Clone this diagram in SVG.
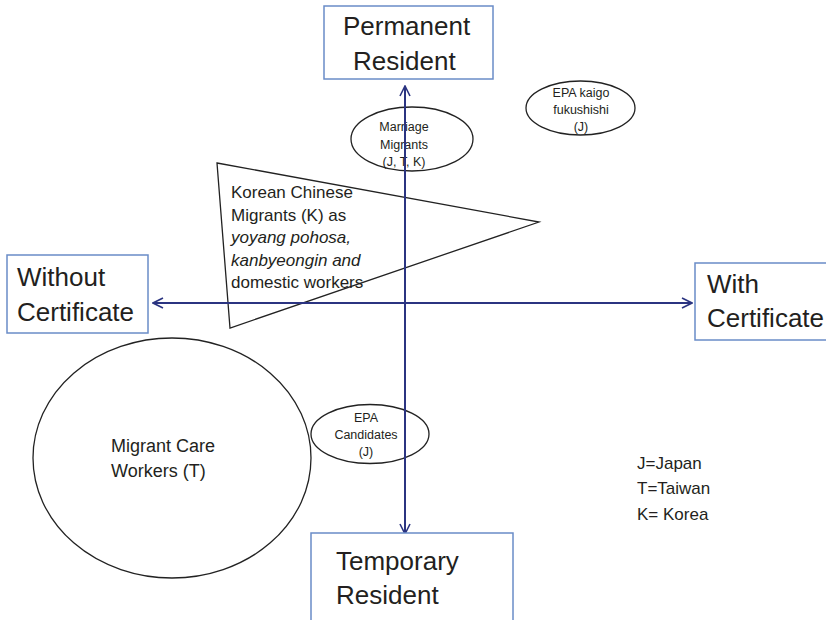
<svg xmlns="http://www.w3.org/2000/svg" width="826" height="620" viewBox="0 0 826 620">
<defs>
<marker id="arr" viewBox="0 0 12 12" refX="11" refY="6" markerWidth="12" markerHeight="12" markerUnits="userSpaceOnUse" orient="auto-start-reverse">
<polyline points="1,1 11,6 1,11" fill="none" stroke="#2b3481" stroke-width="1.6"/>
</marker>
<style>
.box{fill:#fff;stroke:#6a8cc7;stroke-width:1.5}
.shape{fill:#fff;stroke:#222;stroke-width:1.3}
.big{font-family:"Liberation Sans",Arial,sans-serif;font-size:26px;fill:#231f20}
.mid{font-family:"Liberation Sans",Arial,sans-serif;font-size:17px;fill:#231f20}
.sm{font-family:"Liberation Sans",Arial,sans-serif;font-size:12.5px;fill:#231f20;text-anchor:middle}
.ax{stroke:#2b3481;stroke-width:2;fill:none}
</style>
</defs>
<rect width="826" height="620" fill="#fff"/>
<g id="migrant-care">
<ellipse class="shape" cx="172" cy="458" rx="139" ry="120"/>
<text class="mid" style="font-size:18px" x="111" y="452">Migrant Care</text>
<text class="mid" style="font-size:18px" x="111" y="477">Workers (T)</text>
</g>
<g id="korean-chinese">
<polygon class="shape" style="fill:none" points="217,163 539,222 230,328"/>
<text class="mid" x="231" y="198">Korean Chinese</text>
<text class="mid" x="231" y="221">Migrants (K) as</text>
<text class="mid" x="231" y="243" font-style="italic">yoyang pohosa,</text>
<text class="mid" x="231" y="266" font-style="italic">kanbyeongin and</text>
<text class="mid" x="231" y="288">domestic workers</text>
</g>
<g id="marriage">
<ellipse class="shape" style="fill:none" cx="412" cy="139" rx="61" ry="32"/>
<text class="sm" x="404" y="131">Marriage</text>
<text class="sm" x="404" y="149">Migrants</text>
<text class="sm" x="404" y="166">(J, T, K)</text>
</g>
<g id="epa-kaigo">
<ellipse class="shape" cx="580.5" cy="108" rx="54.5" ry="27"/>
<text class="sm" x="581" y="97">EPA kaigo</text>
<text class="sm" x="581" y="114">fukushishi</text>
<text class="sm" x="581" y="131">(J)</text>
</g>
<g id="epa-candidates">
<ellipse class="shape" style="fill:none" cx="370" cy="434" rx="59" ry="29.5"/>
<text class="sm" x="366" y="422">EPA</text>
<text class="sm" x="366" y="439">Candidates</text>
<text class="sm" x="366" y="456">(J)</text>
</g>
<g id="connectors">
<line class="ax" x1="405" y1="534" x2="405" y2="86" marker-start="url(#arr)" marker-end="url(#arr)"/>
<line class="ax" x1="153" y1="303" x2="692" y2="303" marker-start="url(#arr)" marker-end="url(#arr)"/>
</g>
<g id="permanent">
<rect class="box" x="324" y="6" width="169" height="73"/>
<text class="big" x="343" y="35">Permanent</text>
<text class="big" x="353" y="70">Resident</text>
</g>
<g id="without">
<rect class="box" x="7" y="255" width="141" height="78"/>
<text class="big" x="17" y="286">Without</text>
<text class="big" x="17" y="321">Certificate</text>
</g>
<g id="with">
<rect class="box" x="695" y="263" width="140" height="77"/>
<text class="big" x="707" y="293">With</text>
<text class="big" x="707" y="327">Certificate</text>
</g>
<g id="temporary">
<rect class="box" x="311" y="533" width="202" height="95"/>
<text class="big" x="336" y="570">Temporary</text>
<text class="big" x="336" y="604">Resident</text>
</g>
<g id="legend">
<text class="mid" x="637" y="469">J=Japan</text>
<text class="mid" x="637" y="494">T=Taiwan</text>
<text class="mid" x="637" y="520">K= Korea</text>
</g>
</svg>
